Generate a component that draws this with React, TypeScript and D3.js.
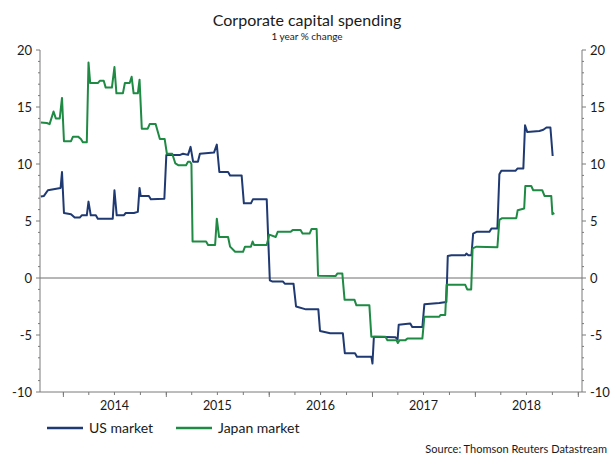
import * as d3 from 'd3';

type Pt = [string, number];

// US market, 1 year % change (weekly)
const usMarket: Pt[] = [
  ['2013-10-13', 7.15], ['2013-10-24', 7.2], ['2013-11-07', 7.7], ['2013-12-22', 7.9],
  ['2013-12-27', 9.3], ['2014-01-03', 5.7], ['2014-01-28', 5.6], ['2014-02-10', 5.3],
  ['2014-02-28', 5.3], ['2014-03-07', 5.5], ['2014-03-25', 5.5], ['2014-03-31', 6.7],
  ['2014-04-08', 5.5], ['2014-04-26', 5.5], ['2014-05-03', 5.2], ['2014-06-25', 5.2],
  ['2014-07-01', 7.7], ['2014-07-09', 5.5], ['2014-08-03', 5.5], ['2014-08-10', 5.7],
  ['2014-09-08', 5.7], ['2014-09-22', 5.8], ['2014-09-28', 7.9], ['2014-10-02', 7.2],
  ['2014-10-31', 7.2], ['2014-11-07', 6.9], ['2014-12-25', 6.95], ['2015-01-01', 10.8],
  ['2015-02-19', 10.8], ['2015-03-01', 10.9], ['2015-03-19', 10.8], ['2015-03-28', 11.5],
  ['2015-04-06', 10.2], ['2015-04-23', 10.2], ['2015-04-30', 10.9], ['2015-06-19', 11.0],
  ['2015-06-29', 11.7], ['2015-07-08', 9.3], ['2015-08-08', 9.3], ['2015-08-15', 9.0],
  ['2015-09-25', 9.0], ['2015-10-03', 6.55], ['2015-10-28', 6.55], ['2015-11-04', 6.9],
  ['2015-12-23', 6.9], ['2016-01-03', -0.2], ['2016-01-11', -0.3], ['2016-02-18', -0.3],
  ['2016-02-25', -0.5], ['2016-03-27', -0.5], ['2016-04-05', -2.5], ['2016-05-10', -2.75],
  ['2016-06-23', -2.75], ['2016-06-29', -4.65], ['2016-08-04', -4.85], ['2016-09-18', -4.85],
  ['2016-09-25', -6.6], ['2016-10-31', -6.6], ['2016-11-07', -6.9], ['2016-12-28', -6.9],
  ['2017-01-01', -7.5], ['2017-01-06', -5.15], ['2017-03-24', -5.2], ['2017-03-31', -5.4],
  ['2017-04-04', -4.1], ['2017-05-15', -4.0], ['2017-05-22', -4.3], ['2017-06-27', -4.3],
  ['2017-07-04', -2.3], ['2017-08-26', -2.2], ['2017-09-20', -2.1], ['2017-09-25', 1.93],
  ['2017-10-08', 2.0], ['2017-11-26', 2.0], ['2017-11-30', 2.15], ['2017-12-07', 2.0],
  ['2017-12-18', 2.0], ['2017-12-24', 3.9], ['2018-01-05', 4.05], ['2018-02-20', 4.05],
  ['2018-02-27', 4.35], ['2018-03-20', 4.35], ['2018-03-27', 9.1], ['2018-04-03', 9.4],
  ['2018-05-23', 9.4], ['2018-05-30', 9.6], ['2018-06-20', 9.6], ['2018-06-26', 13.4],
  ['2018-07-04', 12.8], ['2018-08-16', 12.9], ['2018-08-30', 13.0], ['2018-09-10', 13.2],
  ['2018-09-24', 13.2], ['2018-10-02', 10.7],
];

// Japan market, 1 year % change
const japanMarket: Pt[] = [
  ['2013-10-13', 13.65], ['2013-11-03', 13.6], ['2013-11-13', 13.5], ['2013-11-27', 14.6],
  ['2013-12-05', 14.0], ['2013-12-19', 14.0], ['2013-12-27', 15.8], ['2014-01-03', 12.0],
  ['2014-01-28', 12.0], ['2014-02-04', 12.4], ['2014-02-22', 12.4], ['2014-03-04', 12.2],
  ['2014-03-11', 11.9], ['2014-03-25', 11.9], ['2014-03-31', 18.9], ['2014-04-06', 17.1],
  ['2014-05-03', 17.1], ['2014-05-10', 17.3], ['2014-05-24', 17.3], ['2014-05-31', 16.7],
  ['2014-06-22', 16.7], ['2014-07-01', 18.5], ['2014-07-08', 16.2], ['2014-07-31', 16.2],
  ['2014-08-07', 17.1], ['2014-08-24', 17.1], ['2014-08-31', 17.65], ['2014-09-07', 16.2],
  ['2014-09-22', 16.2], ['2014-09-28', 17.4], ['2014-10-06', 13.1], ['2014-10-27', 13.1],
  ['2014-11-03', 13.5], ['2014-11-24', 13.5], ['2014-12-02', 12.8], ['2014-12-09', 12.2],
  ['2014-12-26', 12.2], ['2015-01-03', 10.9], ['2015-01-22', 10.9], ['2015-02-02', 10.05],
  ['2015-02-12', 9.9], ['2015-03-12', 9.9], ['2015-03-19', 10.2], ['2015-03-26', 10.2],
  ['2015-03-31', 10.0], ['2015-04-04', 3.2], ['2015-05-22', 3.2], ['2015-05-29', 2.9],
  ['2015-06-23', 2.9], ['2015-06-29', 5.2], ['2015-07-07', 3.6], ['2015-08-08', 3.6],
  ['2015-08-15', 2.75], ['2015-09-02', 2.3], ['2015-09-30', 2.3], ['2015-10-07', 2.75],
  ['2015-10-28', 2.75], ['2015-11-03', 3.2], ['2015-11-08', 2.9], ['2015-12-23', 2.9],
  ['2016-01-01', 3.8], ['2016-01-24', 3.6], ['2016-01-31', 4.05], ['2016-03-17', 4.05],
  ['2016-03-24', 4.2], ['2016-04-21', 4.2], ['2016-04-28', 3.9], ['2016-05-23', 3.9],
  ['2016-05-30', 4.3], ['2016-06-17', 4.3], ['2016-06-22', 0.2], ['2016-08-23', 0.17],
  ['2016-08-30', 0.4], ['2016-09-16', 0.4], ['2016-09-24', -1.9], ['2016-10-29', -1.9],
  ['2016-11-05', -2.4], ['2016-12-21', -2.4], ['2016-12-28', -5.15], ['2017-02-16', -5.15],
  ['2017-02-23', -5.45], ['2017-03-27', -5.45], ['2017-04-01', -5.7], ['2017-04-07', -5.45],
  ['2017-04-28', -5.45], ['2017-05-05', -5.3], ['2017-06-27', -5.3], ['2017-07-04', -3.4],
  ['2017-08-26', -3.4], ['2017-08-30', -3.25], ['2017-09-16', -3.25], ['2017-09-21', -0.6],
  ['2017-11-26', -0.6], ['2017-12-03', -1.0], ['2017-12-17', -1.0], ['2017-12-22', 2.6],
  ['2018-01-05', 2.75], ['2018-03-20', 2.7], ['2018-03-27', 5.1], ['2018-04-06', 5.25],
  ['2018-05-26', 5.25], ['2018-05-31', 5.95], ['2018-06-23', 6.1], ['2018-06-27', 8.07],
  ['2018-07-18', 8.07], ['2018-07-25', 7.7], ['2018-08-26', 7.7], ['2018-09-03', 7.2],
  ['2018-09-27', 7.2], ['2018-10-01', 5.6], ['2018-10-08', 5.7],
];

const yMajor = [20, 15, 10, 5, 0, -5, -10];
const yearLabels = [2014, 2015, 2016, 2017, 2018];
const seriesNames = ['US market', 'Japan market'];
const seriesColors = ['#1f3a73', '#1e8a43'];

const W = 615;
const H = 455;
const M = { left: 40, right: 582, top: 50, bottom: 392 };
const FONT = 'Lato, "Open Sans", sans-serif';
const AXIS = '#7a7a7a';

export default function App() {
  const parse = d3.timeParse('%Y-%m-%d');
  const x = d3
    .scaleTime()
    .domain([new Date(2013, 9, 10), new Date(2019, 0, 14)])
    .range([M.left, M.right]);
  const y = d3.scaleLinear().domain([-10, 20]).range([M.bottom, M.top]);

  const line = d3
    .line<Pt>()
    .x(d => x(parse(d[0]) as Date))
    .y(d => y(d[1]));

  const yMinor = d3.range(-10, 21, 1).filter(v => v % 5 !== 0);
  const quarters = d3.timeMonth.every(3)!.range(new Date(2013, 9, 10), new Date(2019, 0, 14));
  const years = d3.timeYear.range(new Date(2013, 9, 10), new Date(2019, 0, 14));

  return (
    <div style={{ position: 'absolute', left: 0, top: 0, background: '#fff' }}>
      <svg width={W} height={H} style={{ display: 'block', fontFamily: FONT }}>
        <rect width={W} height={H} fill="#fff" />
        <text x={307} y={26} textAnchor="middle" fontSize={16} fill="#1a1a1a">
          Corporate capital spending
        </text>
        <text x={307} y={40} textAnchor="middle" fontSize={10} fill="#1a1a1a">
          1 year % change
        </text>

        {/* zero line */}
        <line x1={M.left} x2={M.right} y1={y(0)} y2={y(0)} stroke="#6e6e6e" strokeWidth={1} />

        {/* left axis */}
        <line x1={M.left} x2={M.left} y1={M.top} y2={M.bottom} stroke={AXIS} />
        {yMinor.map(v => (
          <line key={'lm' + v} x1={M.left - 2} x2={M.left} y1={y(v)} y2={y(v)} stroke={AXIS} />
        ))}
        {yMajor.map(v => (
          <g key={'l' + v}>
            <line x1={M.left - 4} x2={M.left} y1={y(v)} y2={y(v)} stroke={AXIS} />
            <text x={M.left - 8} y={y(v)} dy="0.35em" textAnchor="end" fontSize={13} fill="#1a1a1a">
              {v}
            </text>
          </g>
        ))}

        {/* right axis */}
        <line x1={M.right} x2={M.right} y1={M.top} y2={M.bottom} stroke={AXIS} />
        {yMinor.map(v => (
          <line key={'rm' + v} x1={M.right} x2={M.right + 2} y1={y(v)} y2={y(v)} stroke={AXIS} />
        ))}
        {yMajor.map(v => (
          <g key={'r' + v}>
            <line x1={M.right} x2={M.right + 4} y1={y(v)} y2={y(v)} stroke={AXIS} />
            <text x={M.right + 8} y={y(v)} dy="0.35em" textAnchor="start" fontSize={13} fill="#1a1a1a">
              {v}
            </text>
          </g>
        ))}

        {/* bottom axis */}
        <line x1={M.left} x2={M.right} y1={M.bottom} y2={M.bottom} stroke={AXIS} />
        {quarters.map(d => (
          <line key={+d} x1={x(d)} x2={x(d)} y1={M.bottom} y2={M.bottom + 3} stroke={AXIS} />
        ))}
        {years.map(d => (
          <line key={'y' + +d} x1={x(d)} x2={x(d)} y1={M.bottom} y2={M.bottom + 5} stroke={AXIS} />
        ))}
        {yearLabels.map(yr => (
          <text
            key={yr}
            x={x(new Date(yr, 6, 1))}
            y={410}
            textAnchor="middle"
            fontSize={12.5}
            fill="#1a1a1a"
          >
            {yr}
          </text>
        ))}

        {/* series */}
        {[usMarket, japanMarket].map((s, i) => (
          <path
            key={seriesNames[i]}
            d={line(s) ?? ''}
            fill="none"
            stroke={seriesColors[i]}
            strokeWidth={2}
            strokeLinejoin="round"
          />
        ))}

        {/* legend */}
        {seriesNames.map((name, i) => {
          const lx = i === 0 ? 47 : 176;
          return (
            <g key={name}>
              <line x1={lx} x2={lx + 36} y1={428} y2={428} stroke={seriesColors[i]} strokeWidth={2.5} />
              <text x={lx + 42} y={428} dy="0.35em" fontSize={14} fill="#1a1a1a">
                {name}
              </text>
            </g>
          );
        })}

        <text x={607} y={453} textAnchor="end" fontSize={11} fill="#1a1a1a">
          Source: Thomson Reuters Datastream
        </text>
      </svg>
    </div>
  );
}
